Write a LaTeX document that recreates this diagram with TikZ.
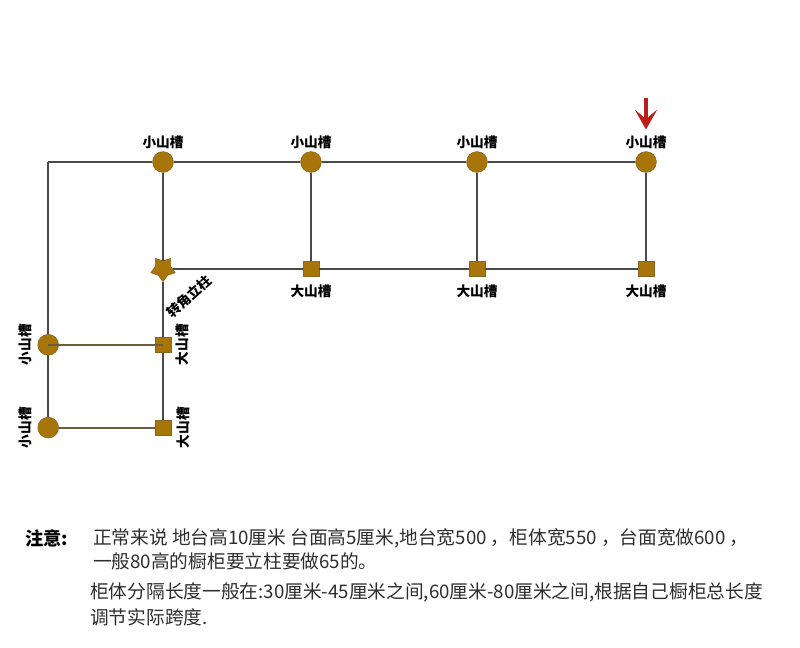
\documentclass[tikz,border=0pt]{standalone}
\usepackage{fontspec}
\setmainfont{Noto Sans CJK SC}
\usepackage{xcolor}
\usetikzlibrary{positioning,shapes.geometric,arrows.meta}
\definecolor{grooveFill}{HTML}{A8750A}
\definecolor{grooveEdge}{HTML}{8A6420}
\definecolor{wireGray}{HTML}{4A4A48}
\definecolor{wireBrown}{HTML}{6E5C3C}
\definecolor{noteGray}{HTML}{2E2E2E}
\definecolor{tipRed}{HTML}{BC1F1A}

\begin{document}
\begin{tikzpicture}[
  smallgroove/.style={circle, draw=grooveEdge, fill=grooveFill, minimum size=0.52cm, inner sep=0pt},
  biggroove/.style={rectangle, draw=grooveEdge, fill=grooveFill, minimum size=0.39cm, inner sep=0pt},
  cornerpost/.style={star, star points=5, star point ratio=1.6, draw=grooveEdge, fill=grooveFill, minimum size=0.64cm, inner sep=0pt, shape border rotate=180},
  tag/.style={font=\fontsize{9.7pt}{11pt}\selectfont\bfseries, inner sep=0pt, text=black},
  note/.style={anchor=west, font=\fontsize{13.3pt}{15pt}\selectfont, inner sep=0pt, text=noteGray},
  wire/.style={draw=wireGray, line width=0.05cm},
  rung/.style={draw=wireBrown, line width=0.05cm},
  pointer/.style={-{Stealth[length=0.5cm, width=0.56cm, inset=0.24cm]}, draw=tipRed, line width=0.1cm},
]
  \useasboundingbox (0,0) rectangle (20,-16.2);

  \node[smallgroove] (smallA) at (4.075,-4.05) {};
  \node[smallgroove, right of=smallA, node distance=3.7cm] (smallB) {};
  \node[smallgroove, right of=smallB, node distance=4.15cm] (smallC) {};
  \node[smallgroove, right of=smallC, node distance=4.225cm] (smallD) {};

  \node[cornerpost, below of=smallA, node distance=2.67cm] (post) {};
  \node[biggroove, below of=smallB, node distance=2.67cm] (bigB) {};
  \node[biggroove, below of=smallC, node distance=2.67cm] (bigC) {};
  \node[biggroove, below of=smallD, node distance=2.67cm] (bigD) {};

  \node[biggroove, below of=post, node distance=1.9cm] (bigE) {};
  \node[biggroove, below of=bigE, node distance=2.07cm] (bigF) {};
  \node[smallgroove, left of=bigE, node distance=2.87cm] (smallE) {};
  \node[smallgroove, left of=bigF, node distance=2.87cm] (smallF) {};
  \coordinate (bend) at (smallE |- smallA);

  \node[tag, above of=smallA, node distance=0.5cm] (tagA) {小山槽};
  \node[tag, above of=smallB, node distance=0.5cm] (tagB) {小山槽};
  \node[tag, above of=smallC, node distance=0.5cm] (tagC) {小山槽};
  \node[tag, above of=smallD, node distance=0.5cm] (tagD) {小山槽};
  \node[tag, below of=bigB, node distance=0.57cm] (tagG) {大山槽};
  \node[tag, below of=bigC, node distance=0.57cm] (tagH) {大山槽};
  \node[tag, below of=bigD, node distance=0.57cm] (tagI) {大山槽};
  \node[tag, left of=smallE, node distance=0.57cm, rotate=90] (tagE) {小山槽};
  \node[tag, left of=smallF, node distance=0.57cm, rotate=90] (tagF) {小山槽};
  \node[tag, right of=bigE, node distance=0.48cm, rotate=90] (tagJ) {大山槽};
  \node[tag, right of=bigF, node distance=0.52cm, rotate=90] (tagK) {大山槽};
  \node[tag, rotate=42] (tagPost) at (4.72,-7.42) {转角立柱};

  \coordinate (tipStart) at (16.15,-2.45);
  \coordinate (tipEnd) at (16.15,-3.24);
  \draw[pointer] (tipStart) -- (tipEnd);

  \draw[wire] (bend) -- (smallA);
  \draw[wire] (smallA) -- (smallB);
  \draw[wire] (smallB) -- (smallC);
  \draw[wire] (smallC) -- (smallD);
  \draw[wire] (smallA) -- (post);
  \draw[wire] (smallB) -- (bigB);
  \draw[wire] (smallC) -- (bigC);
  \draw[wire] (smallD) -- (bigD);
  \draw[wire] (post) -- (bigB);
  \draw[wire] (bigB) -- (bigC);
  \draw[wire] (bigC) -- (bigD);
  \draw[wire] (bend) -- (smallE);
  \draw[wire] (smallE) -- (smallF);
  \draw[wire] (post) -- (bigE);
  \draw[wire] (bigE) -- (bigF);
  \draw[rung] (smallE.center) -- (bigE.center);
  \draw[rung] (smallF) -- (bigF);

  \node[note, font=\fontsize{13pt}{15pt}\selectfont\bfseries, text=black] (noteHead) at (0.62,-13.45) {注意:};
  \node[note] (noteA) at (2.32,-13.45) {正常来说 地台高10厘米 台面高5厘米,地台宽500 ，柜体宽550 ，台面宽做600 ，};
  \node[note] (noteB) at (2.32,-14.03) {一般80高的橱柜要立柱要做65的。};
  \node[note] (noteC) at (2.25,-14.8) {柜体分隔长度一般在:30厘米-45厘米之间,60厘米-80厘米之间,根据自己橱柜总长度};
  \node[note] (noteD) at (2.25,-15.43) {调节实际跨度.};
\end{tikzpicture}
\end{document}
